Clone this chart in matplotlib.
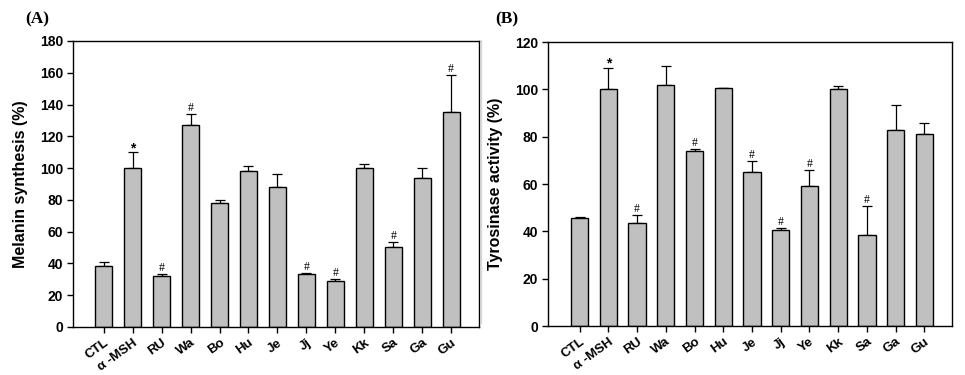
import matplotlib
matplotlib.use("Agg")
import matplotlib.pyplot as plt
from matplotlib.lines import Line2D
from matplotlib.font_manager import FontProperties

categories = ["CTL", "α -MSH", "RU", "Wa", "Bo", "Hu", "Je", "Jj", "Ye", "Kk", "Sa", "Ga", "Gu"]

melanin = [38.4, 100.0, 32.3, 126.9, 78.0, 98.0, 88.4, 33.4, 29.2, 100.3, 50.3, 94.0, 135.1]
melanin_err = [2.8, 10.0, 1.1, 7.1, 1.7, 3.5, 7.7, 0.5, 1.0, 2.5, 3.4, 6.3, 23.3]
melanin_marks = ["", "*", "#", "#", "", "", "", "#", "#", "", "#", "", "#"]

tyrosinase = [45.6, 100.0, 43.5, 102.0, 73.8, 100.4, 65.2, 40.4, 59.1, 100.0, 38.4, 82.8, 81.3]
tyrosinase_err = [0.5, 9.0, 3.3, 7.8, 0.9, 0.3, 4.4, 1.2, 6.8, 1.4, 12.4, 10.7, 4.5]
tyrosinase_marks = ["", "*", "#", "", "#", "", "#", "#", "#", "", "#", "", ""]

W, H = 965, 375
fig = plt.figure(figsize=(W / 100, H / 100), dpi=100)

def px_axes(l, t, r, b):
    return fig.add_axes([l / W, 1 - b / H, (r - l) / W, (b - t) / H])

axA = px_axes(73, 41, 479, 327)
axB = px_axes(548, 42, 952, 326)

tick_fp = FontProperties(family="Liberation Sans", weight="bold", size=10)
xtick_fp = FontProperties(family="Liberation Sans", weight="bold", size=9.5)

def draw(ax, vals, errs, marks, ymax, ystep, ylabel, xlim):
    x = list(range(len(categories)))
    ax.bar(x, vals, width=0.6, color="#c0c0c0", edgecolor="black", linewidth=1.0, zorder=2)
    ax.errorbar(x, vals, yerr=[[0] * len(errs), errs], fmt="none", ecolor="black",
                elinewidth=0.9, capsize=3.5, capthick=0.9, zorder=1)
    for xi, v, e, m in zip(x, vals, errs, marks):
        if m == "*":
            ax.annotate(m, (xi, v + e), xytext=(0, -2), textcoords="offset points",
                        ha="center", va="bottom", fontsize=10, fontweight="bold",
                        family="Liberation Sans")
        elif m:
            ax.annotate(m, (xi, v + e), xytext=(0, 0), textcoords="offset points",
                        ha="center", va="bottom", fontsize=8.5,
                        family="Liberation Serif")
    ax.set_xlim(*xlim)
    ax.set_ylim(0, ymax)
    ax.set_yticks(list(range(0, ymax + 1, ystep)))
    ax.set_xticks(x)
    ax.set_xticklabels(categories, rotation=36, ha="right", rotation_mode="anchor")
    for lab in ax.get_yticklabels():
        lab.set_fontproperties(tick_fp)
    for lab in ax.get_xticklabels():
        lab.set_fontproperties(xtick_fp)
    ax.tick_params(axis="x", direction="out", length=4, width=1, pad=3)
    ax.tick_params(axis="y", direction="out", length=4, width=1, pad=3)
    for s in ax.spines.values():
        s.set_linewidth(1.0)
    ax.set_ylabel(ylabel, fontproperties=FontProperties(family="Liberation Sans", weight="bold", size=11.5),
                  labelpad=9)

draw(axA, melanin, melanin_err, melanin_marks, 180, 20, "Melanin synthesis (%)", (-1.06, 12.96))
draw(axB, tyrosinase, tyrosinase_err, tyrosinase_marks, 120, 20, "Tyrosinase activity (%)", (-1.1, 12.96))

fig.text(25 / W, 1 - 19 / H, "(A)", family="Liberation Serif", weight="bold", fontsize=12.5, va="center", ha="left")
fig.text(495 / W, 1 - 19 / H, "(B)", family="Liberation Serif", weight="bold", fontsize=12.5, va="center", ha="left")

fig.add_artist(Line2D([481 / W, 481 / W], [1 - 40 / H, 1 - 323 / H], color="#d8d8d8", linewidth=1))

fig.savefig("out.png", dpi=100)
